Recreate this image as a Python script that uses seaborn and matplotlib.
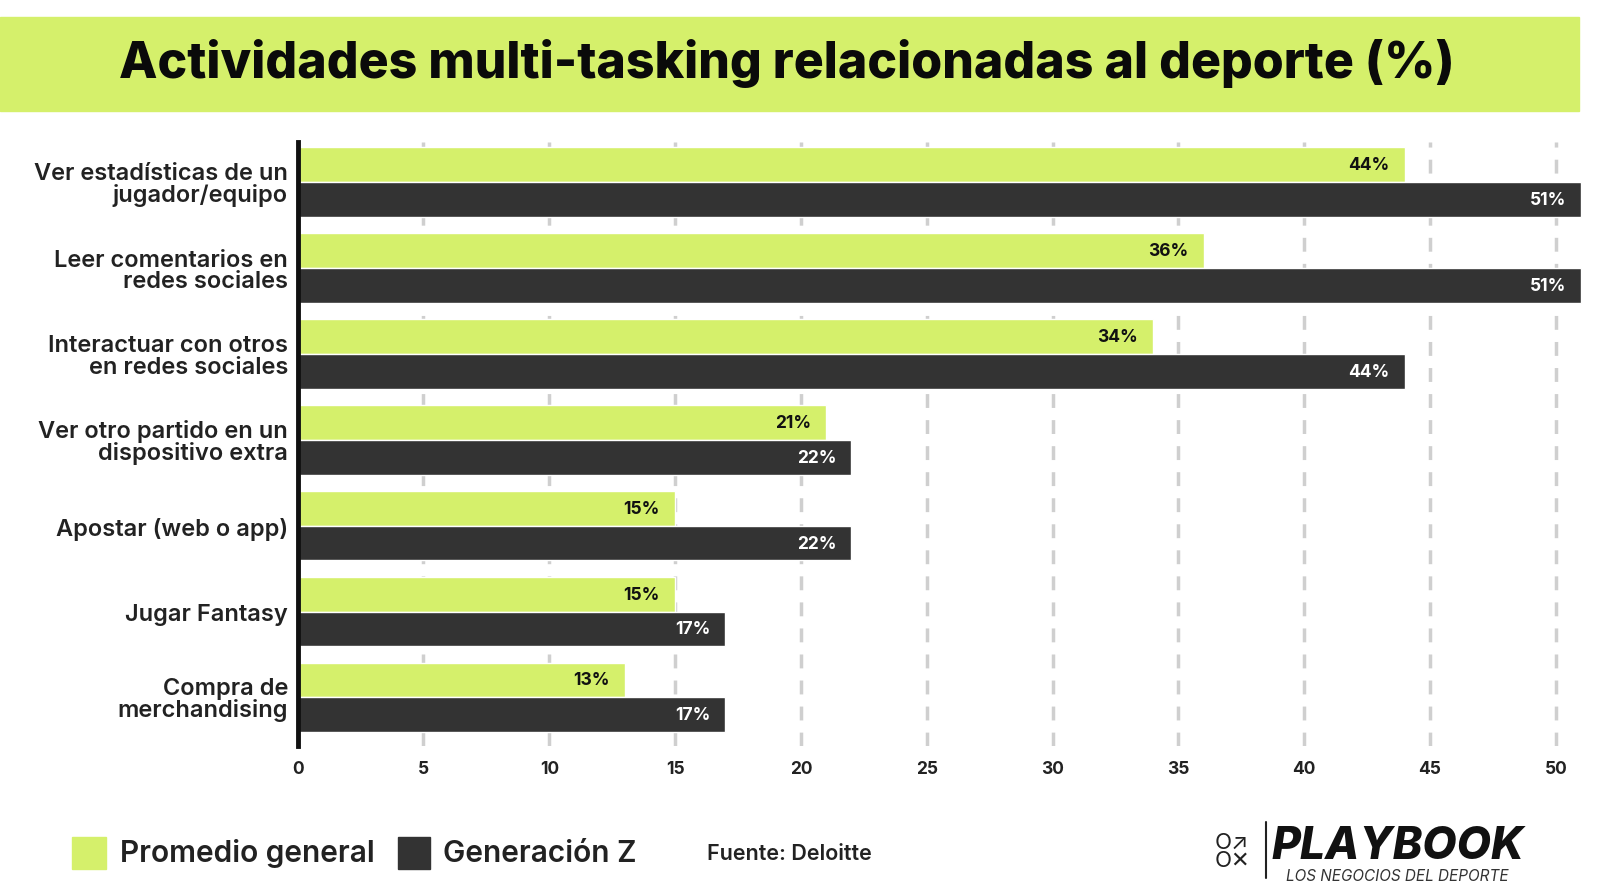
import pandas as pd
import matplotlib.pyplot as plt
import seaborn as sns
from matplotlib.patches import Rectangle

# datos
categorias = [
    "Ver estadísticas de un\njugador/equipo",
    "Leer comentarios en\nredes sociales",
    "Interactuar con otros\nen redes sociales",
    "Ver otro partido en un\ndispositivo extra",
    "Apostar (web o app)",
    "Jugar Fantasy",
    "Compra de\nmerchandising",
]
promedio_general = [44, 36, 34, 21, 15, 15, 13]
generacion_z = [51, 51, 44, 22, 22, 17, 17]
series = ["Promedio general", "Generación Z"]
xticks = [0, 5, 10, 15, 20, 25, 30, 35, 40, 45, 50]

VERDE = "#d5f06b"
OSCURO = "#333333"

df = pd.DataFrame({
    "actividad": categorias * 2,
    "serie": [series[0]] * len(categorias) + [series[1]] * len(categorias),
    "valor": promedio_general + generacion_z,
})

sns.set_theme(style="white")
plt.rcParams["font.family"] = ["Inter", "DejaVu Sans"]

fig = plt.figure(figsize=(16, 8.95), dpi=100)
ax = fig.add_axes([0.186, 0.165, 0.81, 0.675])

sns.barplot(data=df, y="actividad", x="valor", hue="serie", orient="h",
            palette=[VERDE, OSCURO], width=0.81, saturation=1,
            legend=False, ax=ax)

ax.set_xlim(0, 51.5)
ax.set_ylim(6.57, -0.465)
ax.set_xticks(xticks)
ax.set_xticklabels([str(t) for t in xticks], fontsize=12.5, fontweight="bold", color="#222222")
ax.set_xlabel("")
ax.set_ylabel("")
ax.tick_params(axis="x", length=0, pad=10)
ax.tick_params(axis="y", length=0, pad=7)
for lbl in ax.get_yticklabels():
    lbl.set_fontsize(17)
    lbl.set_fontweight("semibold")
    lbl.set_color("#222222")
    lbl.set_linespacing(0.95)

for t in xticks[1:]:
    ax.axvline(t, color="#cfcfcf", lw=2.5, ls=(0, (4, 3.5)), zorder=0)

for s in ["top", "right", "bottom"]:
    ax.spines[s].set_visible(False)
ax.spines["left"].set_linewidth(3.5)
ax.spines["left"].set_color("#111111")

for cont, col in zip(ax.containers, ["#111111", "white"]):
    for bar in cont:
        w = bar.get_width()
        ax.text(w - 0.6, bar.get_y() + bar.get_height() / 2, f"{w:.0f}%",
                ha="right", va="center", fontsize=12.5, fontweight="bold",
                color=col)
        bar.set_clip_on(False)

# banda del título
fig.patches.append(Rectangle((0, 0.8746), 0.987, 0.105, transform=fig.transFigure,
                             color=VERDE, zorder=0))
fig.text(0.492, 0.929, "Actividades multi-tasking relacionadas al deporte (%)",
         ha="center", va="center", fontsize=36, fontweight="heavy", color="#0a0a0a")

# leyenda
fig.patches.append(Rectangle((0.045, 0.028), 0.021, 0.036, transform=fig.transFigure,
                             color=VERDE))
fig.text(0.075, 0.046, series[0], ha="left", va="center", fontsize=21.5,
         fontweight="semibold", color="#222222")
fig.patches.append(Rectangle((0.249, 0.028), 0.020, 0.036, transform=fig.transFigure,
                             color=OSCURO))
fig.text(0.277, 0.046, series[1], ha="left", va="center", fontsize=21.5,
         fontweight="semibold", color="#222222")
fig.text(0.442, 0.046, "Fuente: Deloitte", ha="left", va="center", fontsize=15.5,
         fontweight="semibold", color="#222222")

# logo
fig.text(0.770, 0.048, "O\u2197\nO\u2715", ha="center", va="center", fontsize=16,
         color="#222222", linespacing=0.85)
fig.lines.append(plt.Line2D([0.7915, 0.7915], [0.018, 0.08], transform=fig.transFigure,
                            color="#222222", lw=1.5))
fig.text(0.795, 0.054, "PLAYBOOK", ha="left", va="center", fontsize=32,
         fontweight="heavy", style="italic", color="#111111")
fig.text(0.8035, 0.021, "LOS NEGOCIOS DEL DEPORTE", ha="left", va="center", fontsize=11,
         style="italic", color="#333333")

fig.savefig("out.png", dpi=100)
